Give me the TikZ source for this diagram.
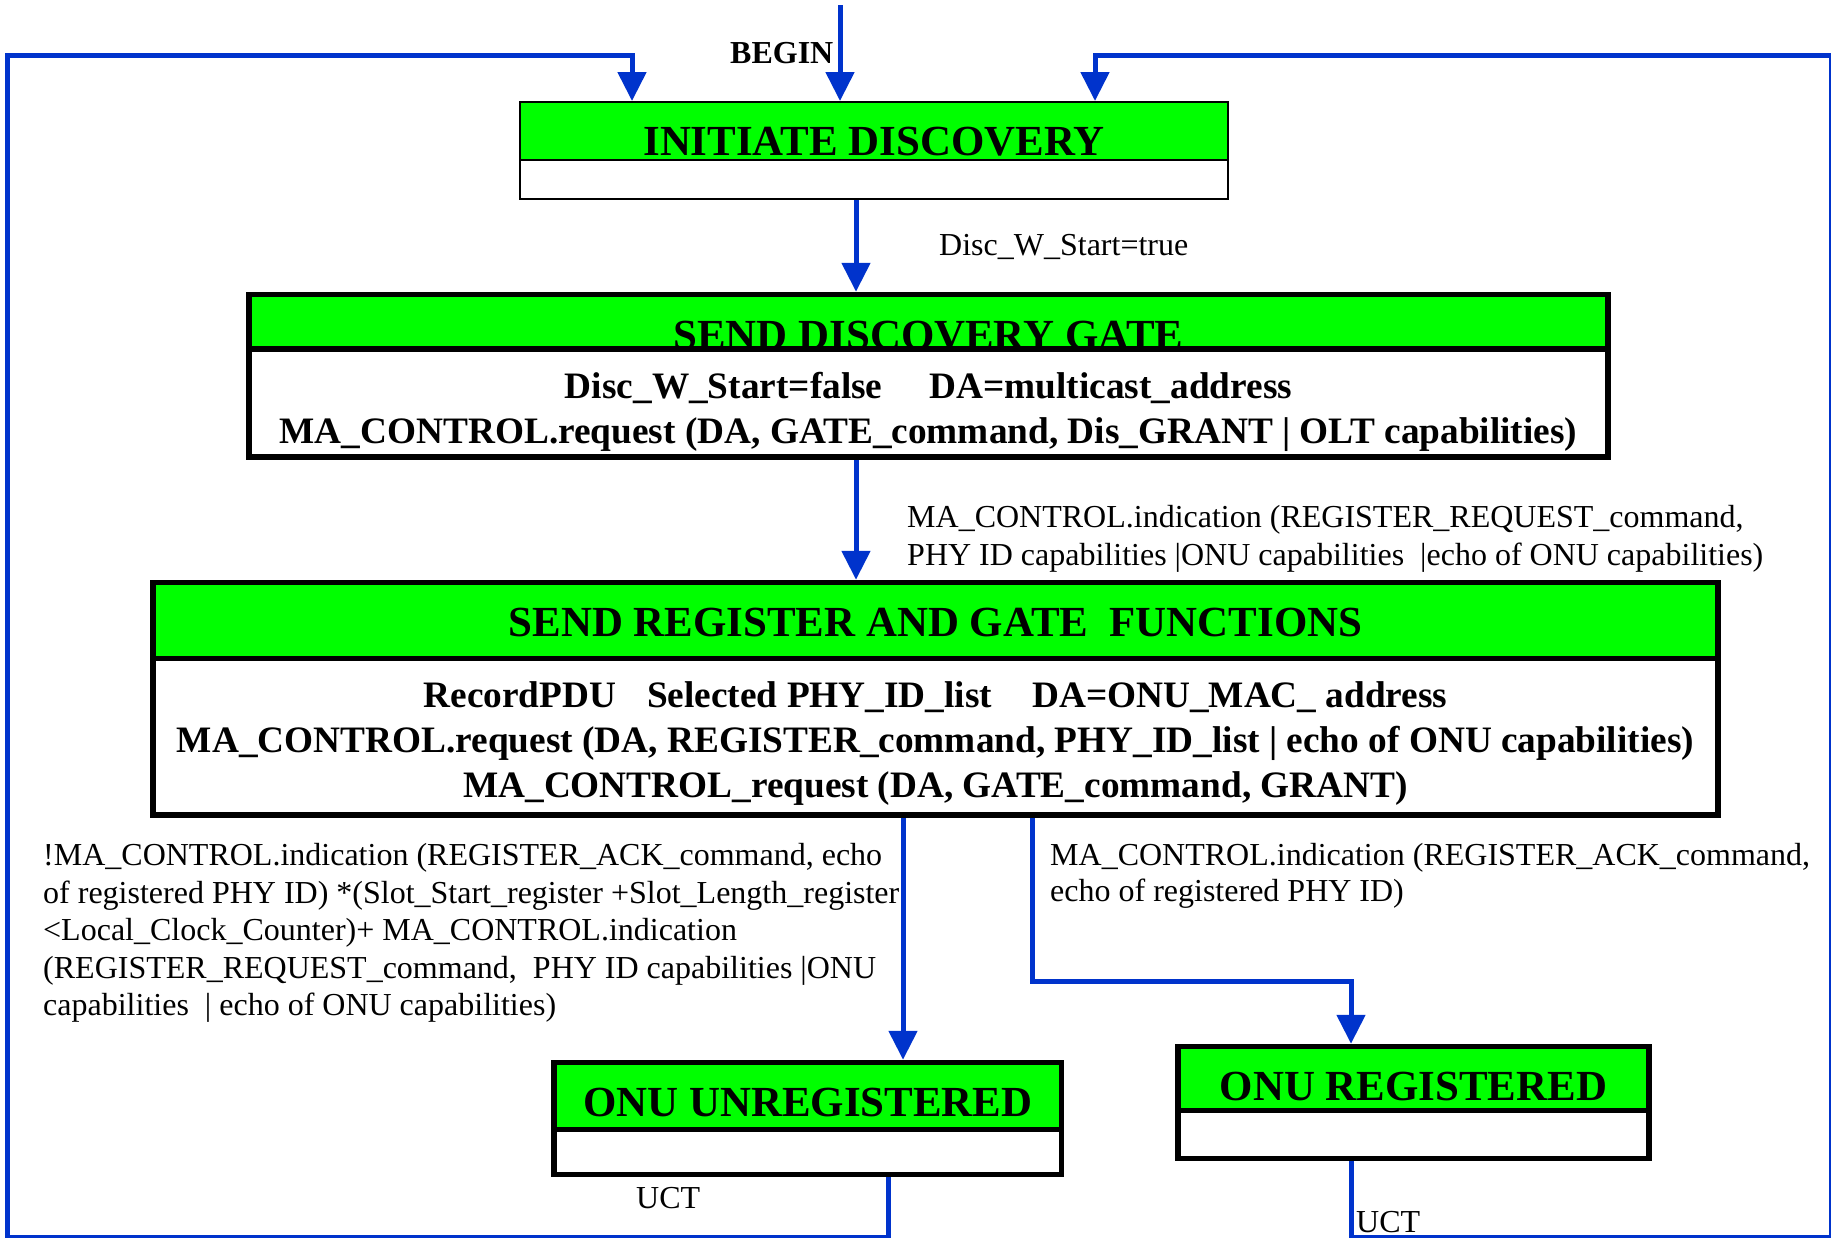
\documentclass[tikz,border=0pt]{standalone}
\usepackage{fontspec}
\setmainfont{Liberation Serif}
\usetikzlibrary{arrows.meta,calc}
\definecolor{flowblue}{RGB}{0,51,204}
\definecolor{hdrgreen}{RGB}{0,255,0}
\tikzset{
  flow/.style={draw=flowblue, line width=5pt, -{Triangle[width=28pt,length=29pt]}},
  thick box/.style={line width=5.5pt},
  thin box/.style={line width=2pt},
  hdr/.style={draw=black, fill=hdrgreen, inner sep=0pt},
  bdy/.style={draw=black, fill=white, inner sep=0pt},
  ttl/.style={font=\fontsize{42.9}{50}\selectfont\bfseries, inner sep=0pt, anchor=base},
  btxt/.style={font=\fontsize{37.3}{45}\selectfont\bfseries, inner sep=0pt, anchor=base, align=center},
  lbl/.style={inner sep=0pt, anchor=base west, align=left},
}
\begin{document}
\begin{tikzpicture}[x=1pt,y=-1pt]
\useasboundingbox (0,0) rectangle (1831,1237);

% ---------- INITIATE DISCOVERY ----------
\node[hdr, thin box, minimum width=708pt, minimum height=58pt] (init-h) at (874,131) {};
\node[ttl] (init-t) at (874,155) {INITIATE DISCOVERY};
\node[bdy, thin box, minimum width=708pt, minimum height=39pt] (init-b) at (874,179.5) {};

% ---------- SEND DISCOVERY GATE ----------
\node[hdr, thick box, minimum width=1359pt, minimum height=54.5pt] (sdg-h) at (928.5,321.75) {};
\node[ttl] (sdg-t) at (928.5,349) {SEND DISCOVERY GATE};
\node[bdy, thick box, minimum width=1359pt, minimum height=108pt] (sdg-b) at (928.5,403) {};
% multi-line nodes: base anchor is the baseline of the last line
\node[btxt] (sdg-x) at (928.5,443.2) {Disc\_W\_Start=false\hspace{47pt}DA=multicast\_address\\MA\_CONTROL.request (DA, GATE\_command, Dis\_GRANT | OLT capabilities)};

% ---------- SEND REGISTER AND GATE FUNCTIONS ----------
\node[hdr, thick box, minimum width=1565pt, minimum height=76pt] (srg-h) at (935.5,620.5) {};
\node[ttl] (srg-t) at (935.5,636) {SEND REGISTER AND GATE\ \ FUNCTIONS};
\node[bdy, thick box, minimum width=1565pt, minimum height=156.5pt] (srg-b) at (935.5,736.75) {};
\node[btxt] (srg-x) at (935.5,797.5) {RecordPDU\hspace{31pt}Selected PHY\_ID\_list\hspace{40pt}DA=ONU\_MAC\_ address\\MA\_CONTROL.request (DA, REGISTER\_command, PHY\_ID\_list | echo of ONU capabilities)\\MA\_CONTROL\_request (DA, GATE\_command, GRANT)};

% ---------- ONU UNREGISTERED ----------
\node[hdr, thick box, minimum width=507.5pt, minimum height=67pt] (unreg-h) at (807.75,1096) {};
\node[ttl] (unreg-t) at (807.75,1116) {ONU UNREGISTERED};
\node[bdy, thick box, minimum width=507.5pt, minimum height=45pt] (unreg-b) at (807.75,1152) {};

% ---------- ONU REGISTERED ----------
\node[hdr, thick box, minimum width=471pt, minimum height=64pt] (reg-h) at (1413.5,1078.5) {};
\node[ttl] (reg-t) at (1413.5,1100) {ONU REGISTERED};
\node[bdy, thick box, minimum width=471pt, minimum height=48pt] (reg-b) at (1413.5,1134.5) {};

% ---------- free ends and loop corners ----------
\coordinate (start) at (840,5);
\coordinate (cornerBL) at (7.5,1237.5);
\coordinate (cornerTL) at (7.5,55);
\coordinate (cornerBR) at (1831.5,1237.5);
\coordinate (cornerTR) at (1831.5,55);

% ---------- connectors ----------
\draw[flow] (start) -- (start |- init-h.north);
\draw[flow] ([xshift=-18pt]init-b.south) -- ([xshift=-18pt]init-b.south |- sdg-h.north);
\draw[flow] ([xshift=-72.5pt]sdg-b.south) -- ([xshift=-72.5pt]sdg-b.south |- srg-h.north);
\draw[flow] ([xshift=95.25pt]unreg-h.north |- srg-b.south) -- ([xshift=95.25pt]unreg-h.north);
\draw[flow] ([xshift=96.5pt]srg-b.south) -- ++(0,164) -| ([xshift=-62.5pt]reg-h.north);
\draw[flow] ([xshift=80.25pt]unreg-b.south) |- (cornerBL) -- (cornerTL) -| ([xshift=-242pt]init-h.north);
\draw[flow] ([xshift=-62.5pt]reg-b.south) |- (cornerBR) -- (cornerTR) -| ([xshift=221pt]init-h.north);

% ---------- labels ----------
\node[lbl, font=\fontsize{32}{38}\selectfont\bfseries] (begin) at (730,63) {BEGIN};
\node[lbl, font=\fontsize{32}{36}\selectfont] (disc) at (939,255.5) {Disc\_W\_Start=true};
\node[lbl, font=\fontsize{32}{38.5}\selectfont] (req) at (907,565.5) {MA\_CONTROL.indication (REGISTER\_REQUEST\_command,\\PHY ID capabilities |ONU capabilities\ \ |echo of ONU capabilities)};
\node[lbl, font=\fontsize{32}{37.5}\selectfont] (nack) at (43,1015.5) {!MA\_CONTROL.indication (REGISTER\_ACK\_command, echo\\of registered PHY ID) *(Slot\_Start\_register +Slot\_Length\_register\\<Local\_Clock\_Counter)+ MA\_CONTROL.indication\\(REGISTER\_REQUEST\_command,\ \ PHY ID capabilities |ONU\\capabilities\ \ | echo of ONU capabilities)};
\node[lbl, font=\fontsize{32}{36}\selectfont] (ack) at (1050,901.5) {MA\_CONTROL.indication (REGISTER\_ACK\_command,\\echo of registered PHY ID)};
\node[lbl, font=\fontsize{32}{36}\selectfont] (uct1) at (636,1208) {UCT};
\node[lbl, font=\fontsize{32}{36}\selectfont] (uct2) at (1356,1232) {UCT};
\end{tikzpicture}
\end{document}
